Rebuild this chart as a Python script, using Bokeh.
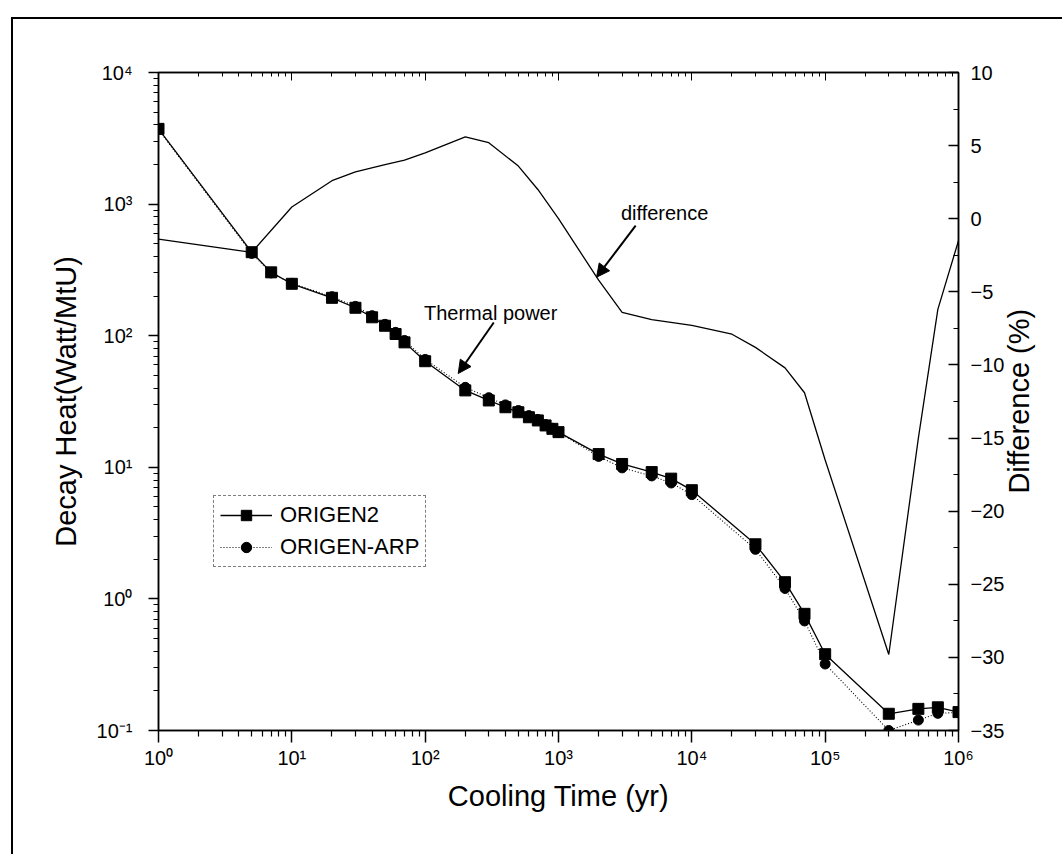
import math
from bokeh.plotting import figure
from bokeh.models import (Range1d, LinearAxis, LogAxis, LinearScale, FixedTicker, Legend,
                          LegendItem, Arrow, NormalHead, Label)
from bokeh.embed import file_html
from bokeh.resources import INLINE

# ---------------- data ----------------
time_yr = [1, 5, 7, 10, 20, 30, 40, 50, 60, 70, 100, 200, 300, 400, 500, 600, 700, 800, 900,
           1000, 2000, 3000, 5000, 7000, 10000, 30000, 50000, 70000, 100000, 300000, 500000,
           700000, 1000000]
origen2 = [3730, 431, 303, 248, 194, 163, 138, 119, 103, 89, 64, 38.4, 32.2, 28.6, 26.2, 24.0,
           22.7, 20.8, 19.6, 18.5, 12.6, 10.6, 9.2, 8.2, 6.7, 2.6, 1.34, 0.77, 0.38, 0.134,
           0.146, 0.150, 0.138]
origen_arp = [3680, 422, 300, 250, 198, 167, 142, 122, 106, 92, 66, 40.5, 33.8, 29.8, 27.0,
              24.7, 23.1, 21.1, 19.8, 18.4, 12.1, 9.9, 8.6, 7.6, 6.2, 2.38, 1.2, 0.68, 0.32,
              0.100, 0.120, 0.135, 0.137]

diff_time = [1, 5, 10, 20, 30, 50, 70, 100, 200, 300, 500, 700, 1000, 2000, 3000, 5000, 10000,
             20000, 30000, 50000, 70000, 100000, 300000, 500000, 700000, 1000000]
diff_pct = [-1.4, -2.3, 0.8, 2.6, 3.2, 3.7, 4.0, 4.5, 5.6, 5.2, 3.6, 2.0, 0.0, -4.2, -6.4, -6.9,
            -7.3, -7.9, -8.8, -10.2, -11.9, -16.5, -29.8, -15.0, -6.2, -1.5]

x_tick_exps = [0, 1, 2, 3, 4, 5, 6]
x_tick_labels = ["10\u2070", "10\u00b9", "10\u00b2", "10\u00b3", "10\u2074", "10\u2075", "10\u2076"]
y_tick_exps = [-1, 0, 1, 2, 3, 4]
y_tick_labels = ["10\u207b\u00b9", "10\u2070", "10\u00b9", "10\u00b2", "10\u00b3", "10\u2074"]
diff_ticks = [10, 5, 0, -5, -10, -15, -20, -25, -30, -35]

x_title = "Cooling Time (yr)"
y_title = "Decay Heat(Watt/MtU)"
y2_title = "Difference (%)"

FONT = "Liberation Sans"

# ---------------- figure ----------------
p = figure(width=1051, height=837, x_axis_type="log", y_axis_type="log",
           x_range=Range1d(1, 1e6), y_range=Range1d(0.1, 1e4),
           output_backend="svg", toolbar_location=None,
           min_border_left=145, min_border_right=106, min_border_top=53, min_border_bottom=126,
           background_fill_color="white", border_fill_color="white")
p.margin = (17, 0, 0, 11)
p.styles = {"border-left": "2px solid black", "border-top": "2px solid black"}
diff_lo, diff_hi = min(diff_ticks), max(diff_ticks)
p.extra_y_ranges = {"diff": Range1d(diff_lo, diff_hi)}
p.extra_y_scales = {"diff": LinearScale()}
p.grid.visible = False
p.outline_line_color = "black"
p.outline_line_width = 1.5

x_major = [10.0 ** e for e in x_tick_exps]
x_minor = [k * 10.0 ** e for e in x_tick_exps[:-1] for k in range(2, 10)]
y_major = [10.0 ** e for e in y_tick_exps]
y_minor = [k * 10.0 ** e for e in y_tick_exps[:-1] for k in range(2, 10)]

xa = p.xaxis[0]
xa.ticker = FixedTicker(ticks=x_major, minor_ticks=x_minor)
xa.major_label_overrides = {t: s for t, s in zip(x_major, x_tick_labels)}
xa.axis_label = x_title

ya = p.yaxis[0]
ya.ticker = FixedTicker(ticks=y_major, minor_ticks=y_minor)
ya.major_label_overrides = {t: s for t, s in zip(y_major, y_tick_labels)}
ya.axis_label = y_title

top = LogAxis(ticker=FixedTicker(ticks=x_major, minor_ticks=x_minor))
top.major_label_text_font_size = "0px"
top.major_label_text_color = None
top.major_tick_in = 8
top.major_tick_out = 0
top.minor_tick_in = 4
top.minor_tick_out = 0
top.axis_line_width = 1.5
p.add_layout(top, "above")

right = LinearAxis(y_range_name="diff",
                   ticker=FixedTicker(ticks=diff_ticks,
                                      minor_ticks=[t - 2.5 for t in diff_ticks[:-1]]))
p.add_layout(right, "right")

for ax in (xa, ya, right):
    ax.axis_line_width = 1.5
    ax.major_tick_line_width = 1.5
    ax.minor_tick_line_width = 1.2
    ax.major_label_text_font = FONT
    ax.major_label_text_font_size = "20px"
    ax.major_label_text_color = "black"
    ax.axis_label_text_font = FONT
    ax.axis_label_text_font_size = "29px"
    ax.axis_label_text_font_style = "normal"
    ax.axis_label_text_color = "black"

xa.major_tick_out = 12
xa.major_tick_in = 0
xa.minor_tick_out = 6
xa.minor_tick_in = 0
xa.major_label_standoff = 4
xa.axis_label_standoff = 8

ya.major_tick_out = 10
ya.major_tick_in = 0
ya.minor_tick_out = 5
ya.minor_tick_in = 0
ya.major_label_standoff = 16
ya.axis_label_standoff = 12

right.major_tick_out = 0
right.major_tick_in = 10
right.minor_tick_out = 0
right.minor_tick_in = 5
right.major_label_standoff = 12

# right-axis title (reads bottom to top, centred on the axis) drawn as the single
# label of a bare companion axis; the rotated label starts at its anchor, so the
# anchor sits half the title's length below the middle of the axis
mid_pct = (diff_lo + diff_hi) / 2
title_anchor = mid_pct - 0.14 * (diff_hi - diff_lo)
title_axis = LinearAxis(y_range_name="diff",
                        ticker=FixedTicker(ticks=[title_anchor], minor_ticks=[]),
                        major_label_overrides={title_anchor: y2_title},
                        major_label_orientation=math.pi / 2)
title_axis.axis_line_color = None
title_axis.major_tick_line_color = None
title_axis.minor_tick_line_color = None
title_axis.major_tick_in = 0
title_axis.major_tick_out = 0
title_axis.major_label_standoff = 12
title_axis.major_label_text_font = FONT
title_axis.major_label_text_font_size = "29px"
title_axis.major_label_text_color = "black"
p.add_layout(title_axis, "right")

# ---------------- glyphs ----------------
arp_line = p.line(time_yr, origen_arp, line_color="black", line_width=1.1, line_dash="1 2")
o2_line = p.line(time_yr, origen2, line_color="black", line_width=1.3)
arp_pts = p.scatter(time_yr, origen_arp, marker="circle", size=10, color="black")
o2_pts = p.scatter(time_yr, origen2, marker="square", size=11, color="black")

p.line(diff_time, diff_pct, y_range_name="diff", line_color="black", line_width=1.3)

legend = Legend(items=[LegendItem(label="ORIGEN2", renderers=[o2_line, o2_pts]),
                       LegendItem(label="ORIGEN-ARP", renderers=[arp_line, arp_pts])],
                location=(55, 163))
legend.label_text_font = FONT
legend.label_text_font_size = "22px"
legend.label_text_color = "black"
legend.glyph_width = 52
legend.glyph_height = 26
legend.label_height = 26
legend.label_standoff = 8
legend.spacing = 6
legend.padding = 6
legend.margin = 0
legend.border_line_color = "black"
legend.border_line_width = 1.2
legend.border_line_dash = "3 2"
legend.background_fill_color = "white"
legend.background_fill_alpha = 1.0
p.add_layout(legend, "center")

# ---------------- annotations ----------------
p.add_layout(Label(x=310, y=150, text="Thermal power", text_font=FONT, text_font_size="20px",
                   text_align="center", text_baseline="middle", text_color="black"))
p.add_layout(Arrow(x_start=327, y_start=126, x_end=177, y_end=51.6,
                   line_width=2, line_color="black",
                   end=NormalHead(size=13, fill_color="black", line_color="black")))

p.add_layout(Label(x=6250, y=0.42, y_range_name="diff", text="difference", text_font=FONT,
                   text_font_size="20px", text_align="center", text_baseline="middle",
                   text_color="black"))
p.add_layout(Arrow(x_start=3790, y_start=-0.47, x_end=1930, y_end=-4.0, y_range_name="diff",
                   line_width=2, line_color="black",
                   end=NormalHead(size=13, fill_color="black", line_color="black")))

open("out.html", "w").write(file_html(p, INLINE))
